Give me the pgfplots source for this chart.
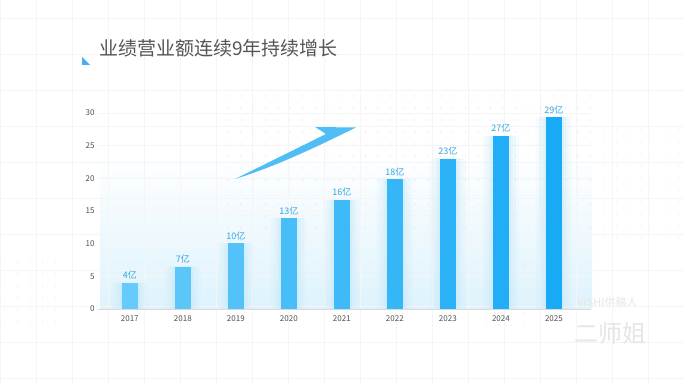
\documentclass[border=0pt]{standalone}
\usepackage{pgfplots}
\pgfplotsset{compat=1.18}
\usepackage{fontspec}
\setmainfont{Noto Sans CJK SC}
\definecolor{titlegray}{RGB}{85,85,85}
\definecolor{ticklab}{RGB}{80,80,80}
\definecolor{lablue}{RGB}{50,165,222}
\definecolor{glowblue}{RGB}{222,243,253}
\definecolor{arrowblue}{RGB}{80,190,245}
\definecolor{wm}{RGB}{230,230,230}
\definecolor{b0}{RGB}{102,202,250}
\definecolor{b1}{RGB}{92,198,249}
\definecolor{b2}{RGB}{82,194,249}
\definecolor{b3}{RGB}{72,190,248}
\definecolor{b4}{RGB}{62,186,248}
\definecolor{b5}{RGB}{52,182,247}
\definecolor{b6}{RGB}{43,178,246}
\definecolor{b7}{RGB}{33,174,246}
\definecolor{b8}{RGB}{24,170,245}
\pgfplotsset{
  mybar/.style 2 args={ybar, bar shift=0pt, bar width=16pt, draw=none, fill=#1,
    nodes near coords={#2},
    every node near coord/.append style={font=\fontsize{9}{10}\selectfont, text=lablue, inner sep=2pt, yshift=1pt}},
  glow/.style 2 args={ybar, bar shift=0pt, bar width=#1, fill=arrowblue!35!white, draw=none, opacity=#2},
}
\begin{document}
\begin{tikzpicture}[x=1pt,y=1pt]
\useasboundingbox (0,0) rectangle (684,385);
\fill[white] (0,0) rectangle (684,385);
% glow area
\shade[top color=white, bottom color=glowblue] (100,76) rectangle (592,230);
% faint background grid
\foreach \gx in {0,36,...,684} \draw[black!4,line width=0.5] (\gx,0) -- (\gx,385);
\foreach \gy in {7,43,...,385} \draw[black!4,line width=0.5] (0,\gy) -- (684,\gy);
% dot patterns
\foreach \i in {0,...,29} \foreach \j in {0,...,12} \fill[black!12] (228+12.5*\i, 289-12*\j) circle (0.6);
\foreach \i in {0,...,6} \foreach \j in {0,...,9} \fill[black!9] (604+12.5*\i, 255-12*\j) circle (0.6);
\foreach \i in {0,...,4} \foreach \j in {0,...,5} \fill[black!11] (5+12.5*\i, 123-12*\j) circle (0.6);
\foreach \i in {0,...,4} \foreach \j in {0,...,5} \fill[black!11] (486+12.5*\i, 120-12*\j) circle (0.6);
% title
\fill[arrowblue!90!blue] (82,328) -- (82,320) -- (90,320) -- cycle;
\node[anchor=west, inner sep=0, text=titlegray, font=\fontsize{19}{22}\selectfont] at (99,337) {业绩营业额连续9年持续增长};
\begin{axis}[
  at={(98pt,76pt)}, anchor=south west,
  scale only axis, width=493pt, height=196pt,
  xmin=-0.6, xmax=8.7, ymin=0, ymax=30,
  axis x line*=bottom, axis y line*=left,
  x axis line style={-, draw=black!15},
  y axis line style={draw=none},
  xtick={0,...,8},
  xticklabels={2017,2018,2019,2020,2021,2022,2023,2024,2025},
  ytick={0,5,...,30},
  major tick length=0pt,
  /pgf/number format/assume math mode=true,
  tick label style={font=\fontsize{8}{9}\selectfont, text=ticklab},
  xticklabel style={yshift=-3pt},
  yticklabel style={xshift=0pt},
  ymajorgrids, grid style={black!4},
  clip=false,
]
% soft glow behind bars
\addplot[glow={36pt}{0.12}] coordinates {(0,4.0) (1,6.5) (2,10.1) (3,13.9) (4,16.7) (5,19.9) (6,23.0) (7,26.5) (8,29.4)};
\addplot[glow={30pt}{0.15}] coordinates {(0,4.0) (1,6.5) (2,10.1) (3,13.9) (4,16.7) (5,19.9) (6,23.0) (7,26.5) (8,29.4)};
\addplot[glow={24pt}{0.2}] coordinates {(0,4.0) (1,6.5) (2,10.1) (3,13.9) (4,16.7) (5,19.9) (6,23.0) (7,26.5) (8,29.4)};
\addplot[glow={20pt}{0.3}] coordinates {(0,4.0) (1,6.5) (2,10.1) (3,13.9) (4,16.7) (5,19.9) (6,23.0) (7,26.5) (8,29.4)};
% bars
\addplot[mybar={b0}{4亿}] coordinates {(0,4.0)};
\addplot[mybar={b1}{7亿}] coordinates {(1,6.5)};
\addplot[mybar={b2}{10亿}] coordinates {(2,10.1)};
\addplot[mybar={b3}{13亿}] coordinates {(3,13.9)};
\addplot[mybar={b4}{16亿}] coordinates {(4,16.7)};
\addplot[mybar={b5}{18亿}] coordinates {(5,19.9)};
\addplot[mybar={b6}{23亿}] coordinates {(6,23.0)};
\addplot[mybar={b7}{27亿}] coordinates {(7,26.5)};
\addplot[mybar={b8}{29亿}] coordinates {(8,29.4)};
\end{axis}
% arrow decoration
\fill[arrowblue] (235,206) -- (326,251) -- (315,258) -- (356,257.5) .. controls (320,240) and (280,220) .. cycle;
% watermark
\node[anchor=west, inner sep=0, text=wm, font=\fontsize{11}{12}\selectfont] at (577,83) {VISHI供稿人};
\node[anchor=west, inner sep=0, text=wm, font=\fontsize{24}{26}\selectfont] at (574,52) {二师姐};
\end{tikzpicture}
\end{document}
